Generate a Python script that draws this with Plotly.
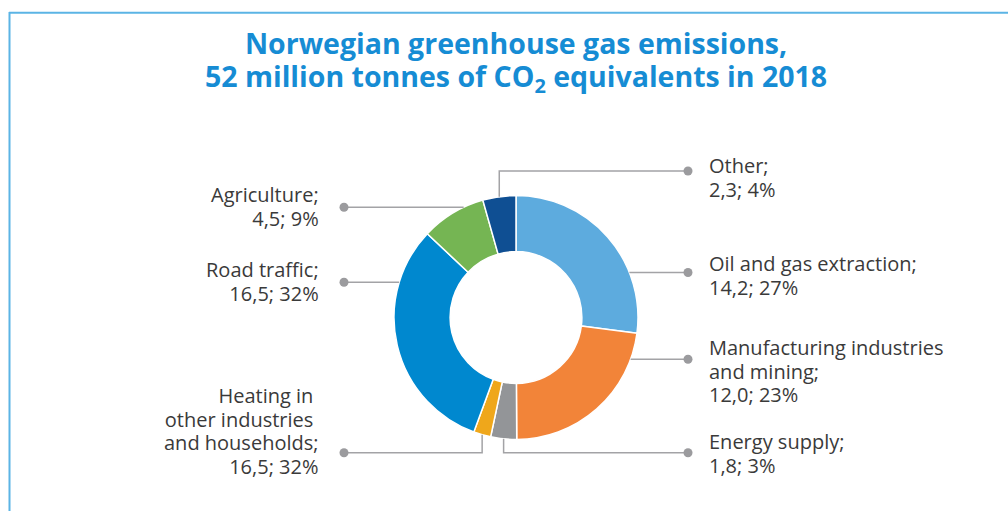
import math
import plotly.graph_objects as go

# ---- data ----
categories = ["Oil and gas extraction", "Manufacturing industries and mining", "Energy supply",
              "Heating in other industries and households", "Road traffic", "Agriculture", "Other"]
values = [14.2, 12.0, 1.8, 1.2, 16.5, 4.5, 2.3]
label_lines = [
    ["Oil and gas extraction;", "14,2; 27%"],
    ["Manufacturing industries", "and mining;", "12,0; 23%"],
    ["Energy supply;", "1,8; 3%"],
    ["Heating in ", "other industries ", "and households;", "16,5; 32%"],
    ["Road traffic;", "16,5; 32%"],
    ["Agriculture;", "4,5; 9%"],
    ["Other;", "2,3; 4%"],
]
title_lines = ["Norwegian greenhouse gas emissions,",
               "52 million tonnes of CO<sub>2</sub> equivalents in 2018"]
colors = ["#5DABDE", "#F28439", "#939598", "#EFA71B", "#0088CF", "#75B553", "#0F4F93"]

# ---- layout constants (pixels) ----
W, H = 1008, 511
CX, CY, R = 516, 317.5, 122
HOLE = 0.54
DOT_L, DOT_R = 344, 688
TXT_L, TXT_R = 321, 707
LH = 23.7
LINE_C = "#A3A3A6"
DOT_C = "#9B9B9E"
TEXT_C = "#3A3A3A"
FONT = "Open Sans"
LABEL_PX = 20
TITLE_PX = 28.5
TITLE_LH = 33

# per-slice leader style: side, leader y (px), first text line center y (px), kind
leaders = [
    ("R", 272.5, 263.5, "h"),
    ("R", 359.3, 347.0, "h"),
    ("R", 452.7, 442.0, "v"),
    ("L", 452.7, 395.0, "v"),
    ("L", 282.3, 269.5, "h"),
    ("L", 207.3, 195.0, "h"),
    ("R", 171.0, 165.5, "v"),
]

def px(x):
    return x / W

def py(y):
    return 1 - y / H

def block(lines, size):
    return "<br>".join(f'<span style="font-size:{size}px">{l}</span>' for l in lines)

fig = go.Figure(go.Pie(
    labels=categories, values=values, sort=False, direction="clockwise", rotation=0,
    hole=HOLE, marker=dict(colors=colors, line=dict(color="white", width=1.5)),
    textinfo="none", hoverinfo="none", showlegend=False,
    domain=dict(x=[px(CX - R), px(CX + R)], y=[py(CY + R), py(CY - R)]),
))

shapes = []
annotations = []
total = sum(values)
cum = 0.0
for i, v in enumerate(values):
    mid = (cum + v / 2) / total * 2 * math.pi
    cum += v
    side, ly, ty, kind = leaders[i]
    dot_x = DOT_R if side == "R" else DOT_L
    if kind == "h":
        dy = ly - CY
        ex = CX + (1 if side == "R" else -1) * math.sqrt(R * R - dy * dy)
        shapes.append(dict(type="line", xref="paper", yref="paper",
                           x0=px(ex), y0=py(ly), x1=px(dot_x), y1=py(ly),
                           line=dict(color=LINE_C, width=1.5)))
    else:
        ex = CX + R * math.sin(mid)
        ey = CY - R * math.cos(mid)
        shapes.append(dict(type="path", xref="paper", yref="paper",
                           path=f"M {px(ex)},{py(ey)} L {px(ex)},{py(ly)} L {px(dot_x)},{py(ly)}",
                           line=dict(color=LINE_C, width=1.5)))
    shapes.append(dict(type="circle", xref="paper", yref="paper",
                       x0=px(dot_x - 4.5), x1=px(dot_x + 4.5), y0=py(ly + 4.5), y1=py(ly - 4.5),
                       fillcolor=DOT_C, line=dict(width=0)))
    n = len(label_lines[i])
    annotations.append(dict(
        text=block(label_lines[i], LABEL_PX), xref="paper", yref="paper", showarrow=False,
        x=px(TXT_R if side == "R" else TXT_L), y=py(ty + (n - 1) * LH / 2),
        xanchor="left" if side == "R" else "right", yanchor="middle",
        align="left" if side == "R" else "right",
        font=dict(family=FONT, size=LH / 1.3, color=TEXT_C),
    ))

# frame lines
shapes.append(dict(type="line", xref="paper", yref="paper", x0=px(9), y0=py(12.7), x1=1.0, y1=py(12.7),
                   line=dict(color="#5BB4E5", width=2)))
shapes.append(dict(type="line", xref="paper", yref="paper", x0=px(9.5), y0=py(12), x1=px(9.5), y1=0,
                   line=dict(color="#5BB4E5", width=2)))

annotations.append(dict(
    text="<b>" + block(title_lines, TITLE_PX) + "</b>", xref="paper", yref="paper", showarrow=False,
    x=px(516), y=py(45 + TITLE_LH / 2), xanchor="center", yanchor="middle", align="center",
    font=dict(family=FONT, size=TITLE_LH / 1.3, color="#168CD4"),
))

fig.update_layout(
    width=W, height=H, margin=dict(l=0, r=0, t=0, b=0),
    paper_bgcolor="white", plot_bgcolor="white",
    shapes=shapes, annotations=annotations,
)
fig.write_html("out.html", config={"displayModeBar": False},
               post_script="document.body.style.margin='0';")
